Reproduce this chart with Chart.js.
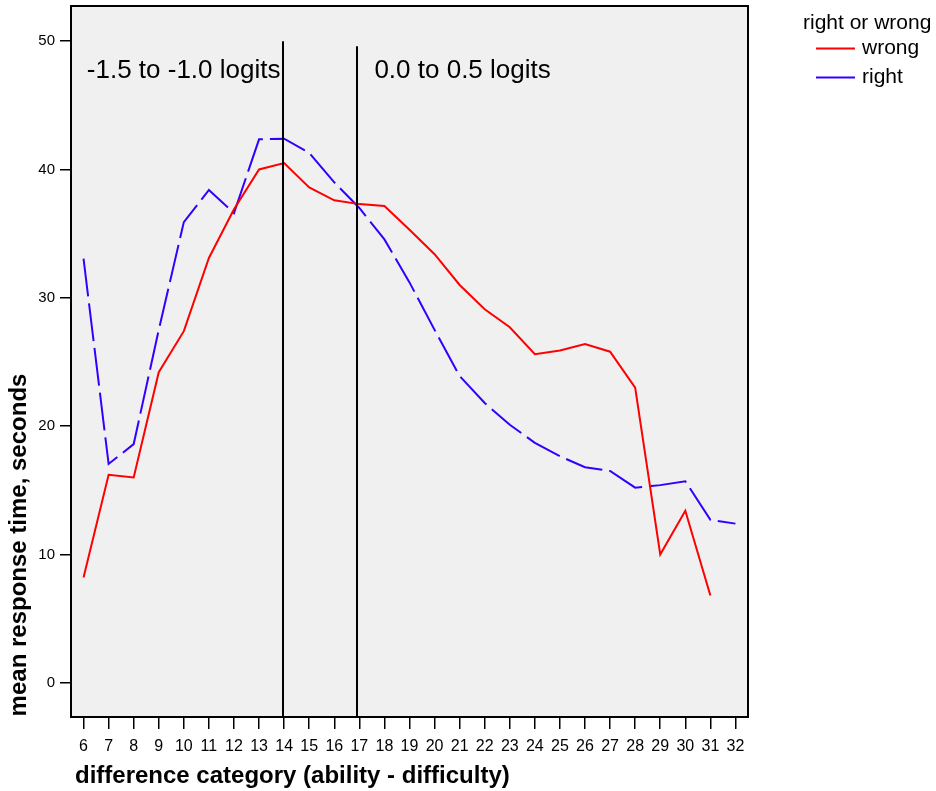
<!DOCTYPE html>
<html>
<head>
<meta charset="utf-8">
<script src="https://cdn.jsdelivr.net/npm/chart.js@4.4.0/dist/chart.umd.min.js"></script>
<style>
  html, body { margin: 0; padding: 0; background: #fff; }
  #wrap { width: 936px; height: 791px; position: relative; }
</style>
</head>
<body>
<div id="wrap"><canvas id="chart"></canvas></div>
<script>
const categories = [6, 7, 8, 9, 10, 11, 12, 13, 14, 15, 16, 17, 18, 19, 20, 21, 22, 23, 24, 25, 26, 27, 28, 29, 30, 31, 32];
const wrongTimes = [8.2, 16.2, 16.0, 24.2, 27.4, 33.1, 36.9, 40.0, 40.5, 38.6, 37.6, 37.3, 37.15, 35.3, 33.4, 31.0, 29.1, 27.7, 25.6, 25.9, 26.4, 25.8, 23.0, 10.0, 13.4, 6.8, null];
const rightTimes = [33.05, 17.05, 18.6, 27.5, 35.9, 38.4, 36.6, 42.35, 42.4, 41.3, 39.0, 37.0, 34.55, 31.2, 27.5, 23.9, 21.8, 20.1, 18.7, 17.65, 16.8, 16.5, 15.2, 15.4, 15.7, 12.7, 12.4];
const yTicks = [0, 10, 20, 30, 40, 50];
// reference lines: position on the category axis, top value, label text and where the label starts
const markers = [
  { pos: 13.97, top: 50, label: "-1.5 to -1.0 logits", labelPos: 6.13 },
  { pos: 16.89, top: 49.6, label: "0.0 to 0.5 logits", labelPos: 17.6 }
];

const FONT = "'Liberation Sans', Arial, sans-serif";

const extras = {
  id: "extras",
  beforeDraw(chart) {
    const { ctx, chartArea: a } = chart;
    ctx.save();
    ctx.fillStyle = "#f0f0f0";
    ctx.fillRect(a.left, a.top, a.right - a.left, a.bottom - a.top);
    ctx.restore();
  },
  afterDraw(chart) {
    const { ctx, chartArea: a, scales } = chart;
    const x = scales.x, y = scales.y;
    const first = categories[0];
    ctx.save();

    // reference lines and labels
    ctx.strokeStyle = "#000";
    ctx.lineWidth = 2;
    markers.forEach(m => {
      const px = Math.round(x.getPixelForValue(m.pos - first));
      ctx.beginPath();
      ctx.moveTo(px, y.getPixelForValue(m.top));
      ctx.lineTo(px, a.bottom);
      ctx.stroke();
    });
    ctx.fillStyle = "#000";
    ctx.font = "26px " + FONT;
    ctx.textBaseline = "alphabetic";
    ctx.textAlign = "left";
    markers.forEach(m => {
      ctx.fillText(m.label, x.getPixelForValue(m.labelPos - first), 78);
    });

    // plot frame
    ctx.lineWidth = 2;
    ctx.strokeRect(a.left, a.top, a.right - a.left, a.bottom - a.top);

    // axis titles
    ctx.font = "bold 24px " + FONT;
    ctx.fillText("difference category (ability - difficulty)", 75, 783);
    ctx.save();
    ctx.translate(26, 545);
    ctx.rotate(-Math.PI / 2);
    ctx.textAlign = "center";
    ctx.fillText("mean response time, seconds", 0, 0);
    ctx.restore();

    // legend
    ctx.font = "21px " + FONT;
    ctx.fillText("right or wrong", 803, 29);
    [["wrong", "#ff0000", 48.5], ["right", "#3300ff", 77.5]].forEach(([t, col, ly]) => {
      ctx.strokeStyle = col;
      ctx.lineWidth = 2;
      ctx.beginPath();
      ctx.moveTo(816, ly);
      ctx.lineTo(855, ly);
      ctx.stroke();
      ctx.fillText(t, 862, ly + 5.5);
    });
    ctx.restore();
  }
};

new Chart(document.getElementById("chart"), {
  type: "line",
  data: {
    labels: categories.map(String),
    datasets: [
      {
        label: "wrong",
        data: wrongTimes,
        borderColor: "#ff0000",
        borderWidth: 2,
        pointRadius: 0,
        tension: 0,
        spanGaps: false
      },
      {
        label: "right",
        data: rightTimes,
        borderColor: "#3300ff",
        borderWidth: 2,
        borderDash: [38, 7],
        pointRadius: 0,
        tension: 0
      }
    ]
  },
  options: {
    responsive: true,
    maintainAspectRatio: false,
    animation: false,
    layout: { padding: { top: 6, right: 188, left: 0, bottom: 0 } },
    plugins: {
      legend: { display: false },
      tooltip: { enabled: false }
    },
    scales: {
      x: {
        type: "category",
        offset: true,
        grid: { drawOnChartArea: false, drawTicks: true, tickLength: 12, color: "#000", lineWidth: 1.5 },
        border: { display: false },
        ticks: { color: "#000", font: { family: FONT, size: 16 }, padding: 8, maxRotation: 0, autoSkip: false },
        afterFit(s) { s.height = 74; s.paddingLeft = 0; s.paddingRight = 0; }
      },
      y: {
        min: -2.67,
        max: 52.74,
        grid: { drawOnChartArea: false, drawTicks: true, tickLength: 11, color: "#000", lineWidth: 1.5 },
        border: { display: false },
        ticks: { color: "#000", font: { family: FONT, size: 15 }, padding: 5 },
        afterBuildTicks(s) { s.ticks = yTicks.map(v => ({ value: v })); },
        afterFit(s) { s.width = 71; s.paddingTop = 0; s.paddingBottom = 0; }
      }
    }
  },
  plugins: [extras]
});
</script>
</body>
</html>
